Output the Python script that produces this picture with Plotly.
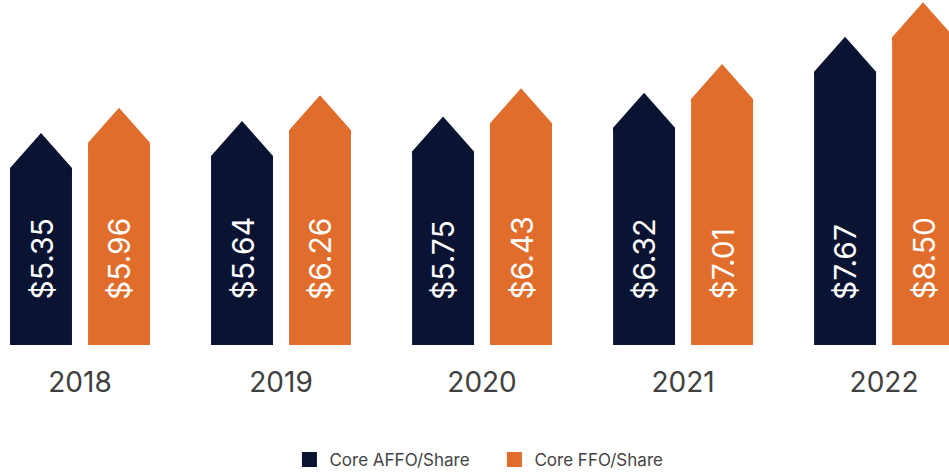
import plotly.graph_objects as go

# ---- data ----
years = ["2018", "2019", "2020", "2021", "2022"]
affo = [5.35, 5.64, 5.75, 6.32, 7.67]
ffo = [5.96, 6.26, 6.43, 7.01, 8.50]
series_names = ["Core AFFO/Share", "Core FFO/Share"]

# ---- style ----
NAVY = "#0A1332"
ORANGE = "#E06D2B"
FONT = "Inter, Arial, sans-serif"
BARGAP = 0.224
GROUPGAP = 0.206
Y0, YTOP = 1.084, 9.398      # visible value range
HEAD = 0.843                 # arrow-head height in value units
OVERLAP = 0.08               # head polygon dips into the bar to hide the seam

slot = (1 - BARGAP) / 2
bw = slot * (1 - GROUPGAP)
xs = list(range(len(years)))

fig = go.Figure()
annotations = []
for k, (vals, color, name) in enumerate(zip([affo, ffo], [NAVY, ORANGE], series_names)):
    off = (k - 0.5) * slot
    fig.add_trace(go.Bar(x=xs, y=vals, name=name, marker=dict(color=color, line=dict(width=0)),
                         showlegend=False, hoverinfo="skip"))
    tx, ty = [], []
    for i, v in zip(xs, vals):
        c = i + off
        tx += [c - bw / 2, c - bw / 2, c, c + bw / 2, c + bw / 2, None]
        ty += [v - OVERLAP, v, v + HEAD, v, v - OVERLAP, None]
    fig.add_trace(go.Scatter(x=tx, y=ty, mode="lines", fill="toself", fillcolor=color,
                             line=dict(width=0), showlegend=False, hoverinfo="skip"))
    fig.add_trace(go.Scatter(x=[None], y=[None], mode="markers", name=name,
                             marker=dict(symbol="square", size=15, color=color)))
    for i, v in zip(xs, vals):
        annotations.append(dict(x=i + off, y=Y0, xref="x", yref="y", text=f"${v:.2f}",
                                textangle=-90, showarrow=False, yanchor="bottom", xanchor="center",
                                yshift=43, font=dict(family=FONT, size=30, color="white")))

fig.update_layout(
    width=949, height=472,
    margin=dict(l=0, r=0, t=0, b=127, autoexpand=False),
    paper_bgcolor="white", plot_bgcolor="white",
    barmode="group", bargap=BARGAP, bargroupgap=GROUPGAP,
    font=dict(family=FONT),
    xaxis=dict(range=[-0.398, 4.323], tickvals=xs, ticktext=years, showgrid=False, zeroline=False,
               showline=False, ticks="outside", ticklen=12, tickcolor="rgba(0,0,0,0)",
               automargin=False,
               tickfont=dict(size=28, color="#404040", family=FONT)),
    yaxis=dict(range=[Y0, YTOP], visible=False, automargin=False),
    legend=dict(orientation="h", x=0.521, xanchor="center", y=0.0254, yref="container",
                yanchor="middle", entrywidth=160, entrywidthmode="pixels",
                font=dict(size=17, color="#444444", family=FONT)),
    annotations=annotations,
)

fig.write_html("out.html", config={"displayModeBar": False})
with open("out.html", encoding="utf-8") as f:
    html = f.read()
html = html.replace("<body>", '<body style="margin:0;overflow:hidden">', 1)
with open("out.html", "w", encoding="utf-8") as f:
    f.write(html)
